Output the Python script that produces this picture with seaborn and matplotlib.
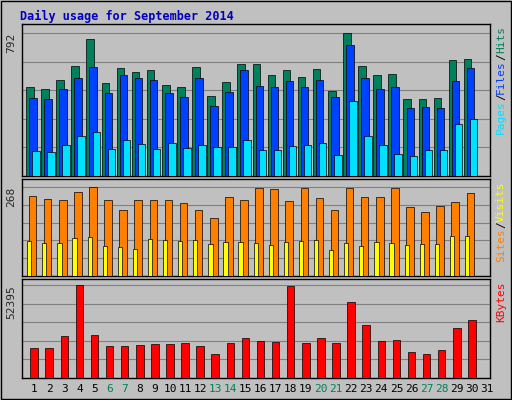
import matplotlib
matplotlib.use("Agg")
import matplotlib.pyplot as plt
import seaborn as sns
import numpy as np

sns.set_style("white")
plt.rcParams['font.family'] = ['DejaVu Sans Mono', 'DejaVu Sans']

days = list(range(1, 31))
day_labels = [str(d) for d in range(1, 32)]
weekends = [6, 7, 13, 14, 20, 21, 27, 28]
hits = [493,482,532,609,760,515,598,576,587,504,493,604,443,521,620,620,560,587,548,593,471,792,609,560,565,427,427,432,643,648]
files = [432,427,482,543,604,460,560,543,532,460,438,543,388,465,587,499,493,526,493,532,438,726,543,482,493,377,382,377,526,598]
pages = [139,133,172,222,244,150,199,177,150,183,155,172,161,161,199,144,144,166,172,183,116,416,222,172,122,111,144,144,288,316]
visits = [241,232,229,253,268,229,199,229,229,229,220,199,175,238,229,265,262,226,265,235,199,265,238,238,265,208,193,211,223,250]
sites = [105,99,99,114,117,90,87,81,111,108,105,108,96,102,102,99,93,102,105,108,78,99,90,102,99,93,96,96,120,120]
kbytes = [16890,16890,23650,52395,24210,18020,18020,18580,19140,19140,19700,18020,13510,19700,22520,20830,20270,51800,19700,22520,19700,42790,29840,20830,21390,14640,13510,15760,28150,32650]

BG = "#C0C0C0"
fig = plt.figure(figsize=(5.12, 4.0), dpi=100, facecolor=BG)
fig.patches.append(plt.Rectangle((0.002, 0.002), 0.996, 0.996, transform=fig.transFigure,
                                 fill=False, edgecolor="black", lw=1))
fig.text(20/512, 1-16/400, "Daily usage for September 2014", color="#0000C0",
         fontsize=8.5, fontweight="bold", va="center", ha="left")

x = np.array(days)
panels = [
    ([0.043, 0.56, 0.914, 0.38], 842, 792),
    ([0.043, 0.31, 0.914, 0.2425], 292, 268),
    ([0.043, 0.055, 0.914, 0.2475], 55775, 52395),
]
axes = []
for rect, ymax, lab in panels:
    ax = fig.add_axes(rect, facecolor=BG)
    ax.set_xlim(0.2, 31.2)
    ax.set_ylim(0, ymax)
    for f in [0.2, 0.4, 0.6, 0.8, 1.0]:
        ax.axhline(lab * f, color="#808080", lw=0.8, zorder=0)
    ax.set_yticks([])
    ax.set_xticks([])
    for s in ax.spines.values():
        s.set_color("black"); s.set_linewidth(1)
    ax.text(-0.012, lab, str(lab), transform=ax.get_yaxis_transform(), rotation=90,
            ha="right", va="top", fontsize=8)
    axes.append(ax)

kw = dict(edgecolor="black", linewidth=0.5, zorder=3)
a1, a2, a3 = axes
a1.bar(x - 0.28, hits, width=0.5, color="#00805C", **kw)
a1.bar(x - 0.08, files, width=0.5, color="#0040FF", **kw)
a1.bar(x + 0.12, pages, width=0.5, color="#00E0FF", **kw)
a2.bar(x - 0.1, visits, width=0.5, color="#FF8000", **kw)
a2.bar(x - 0.32, sites, width=0.28, color="#FFFF00", **kw)
a3.bar(x, kbytes, width=0.5, color="#FF0000", **kw)

a3.set_xticks(range(1, 32))
a3.set_xticklabels(day_labels, fontsize=8)
a3.tick_params(axis="x", length=0, pad=4)
for t, d in zip(a3.get_xticklabels(), range(1, 32)):
    t.set_color("#00805C" if d in weekends else "black")

fig.canvas.draw()
renderer = fig.canvas.get_renderer()

def vlabel(ax, parts):
    # parts listed bottom-to-top (text reads upward)
    pos = ax.get_position()
    xf = pos.x1 + 0.012
    # total height first
    texts = []
    for txt, col in parts:
        t = fig.text(xf, 0, txt, rotation=90, ha="left", va="bottom", color=col, fontsize=8)
        texts.append(t)
    heights = [t.get_window_extent(renderer).height / fig.bbox.height for t in texts]
    y = pos.y1 - sum(heights) - 0.005
    for t, h in zip(texts, heights):
        t.set_y(y)
        y += h

vlabel(a1, [("Pages", "#00E0FF"), ("/", "black"), ("Files", "#0040FF"),
            ("/", "black"), ("Hits", "#00805C")])
vlabel(a2, [("Sites", "#FF8000"), ("/", "black"), ("Visits", "#FFFF00")])
vlabel(a3, [("KBytes", "#FF0000")])

fig.savefig("out.png", dpi=100, facecolor=BG)
